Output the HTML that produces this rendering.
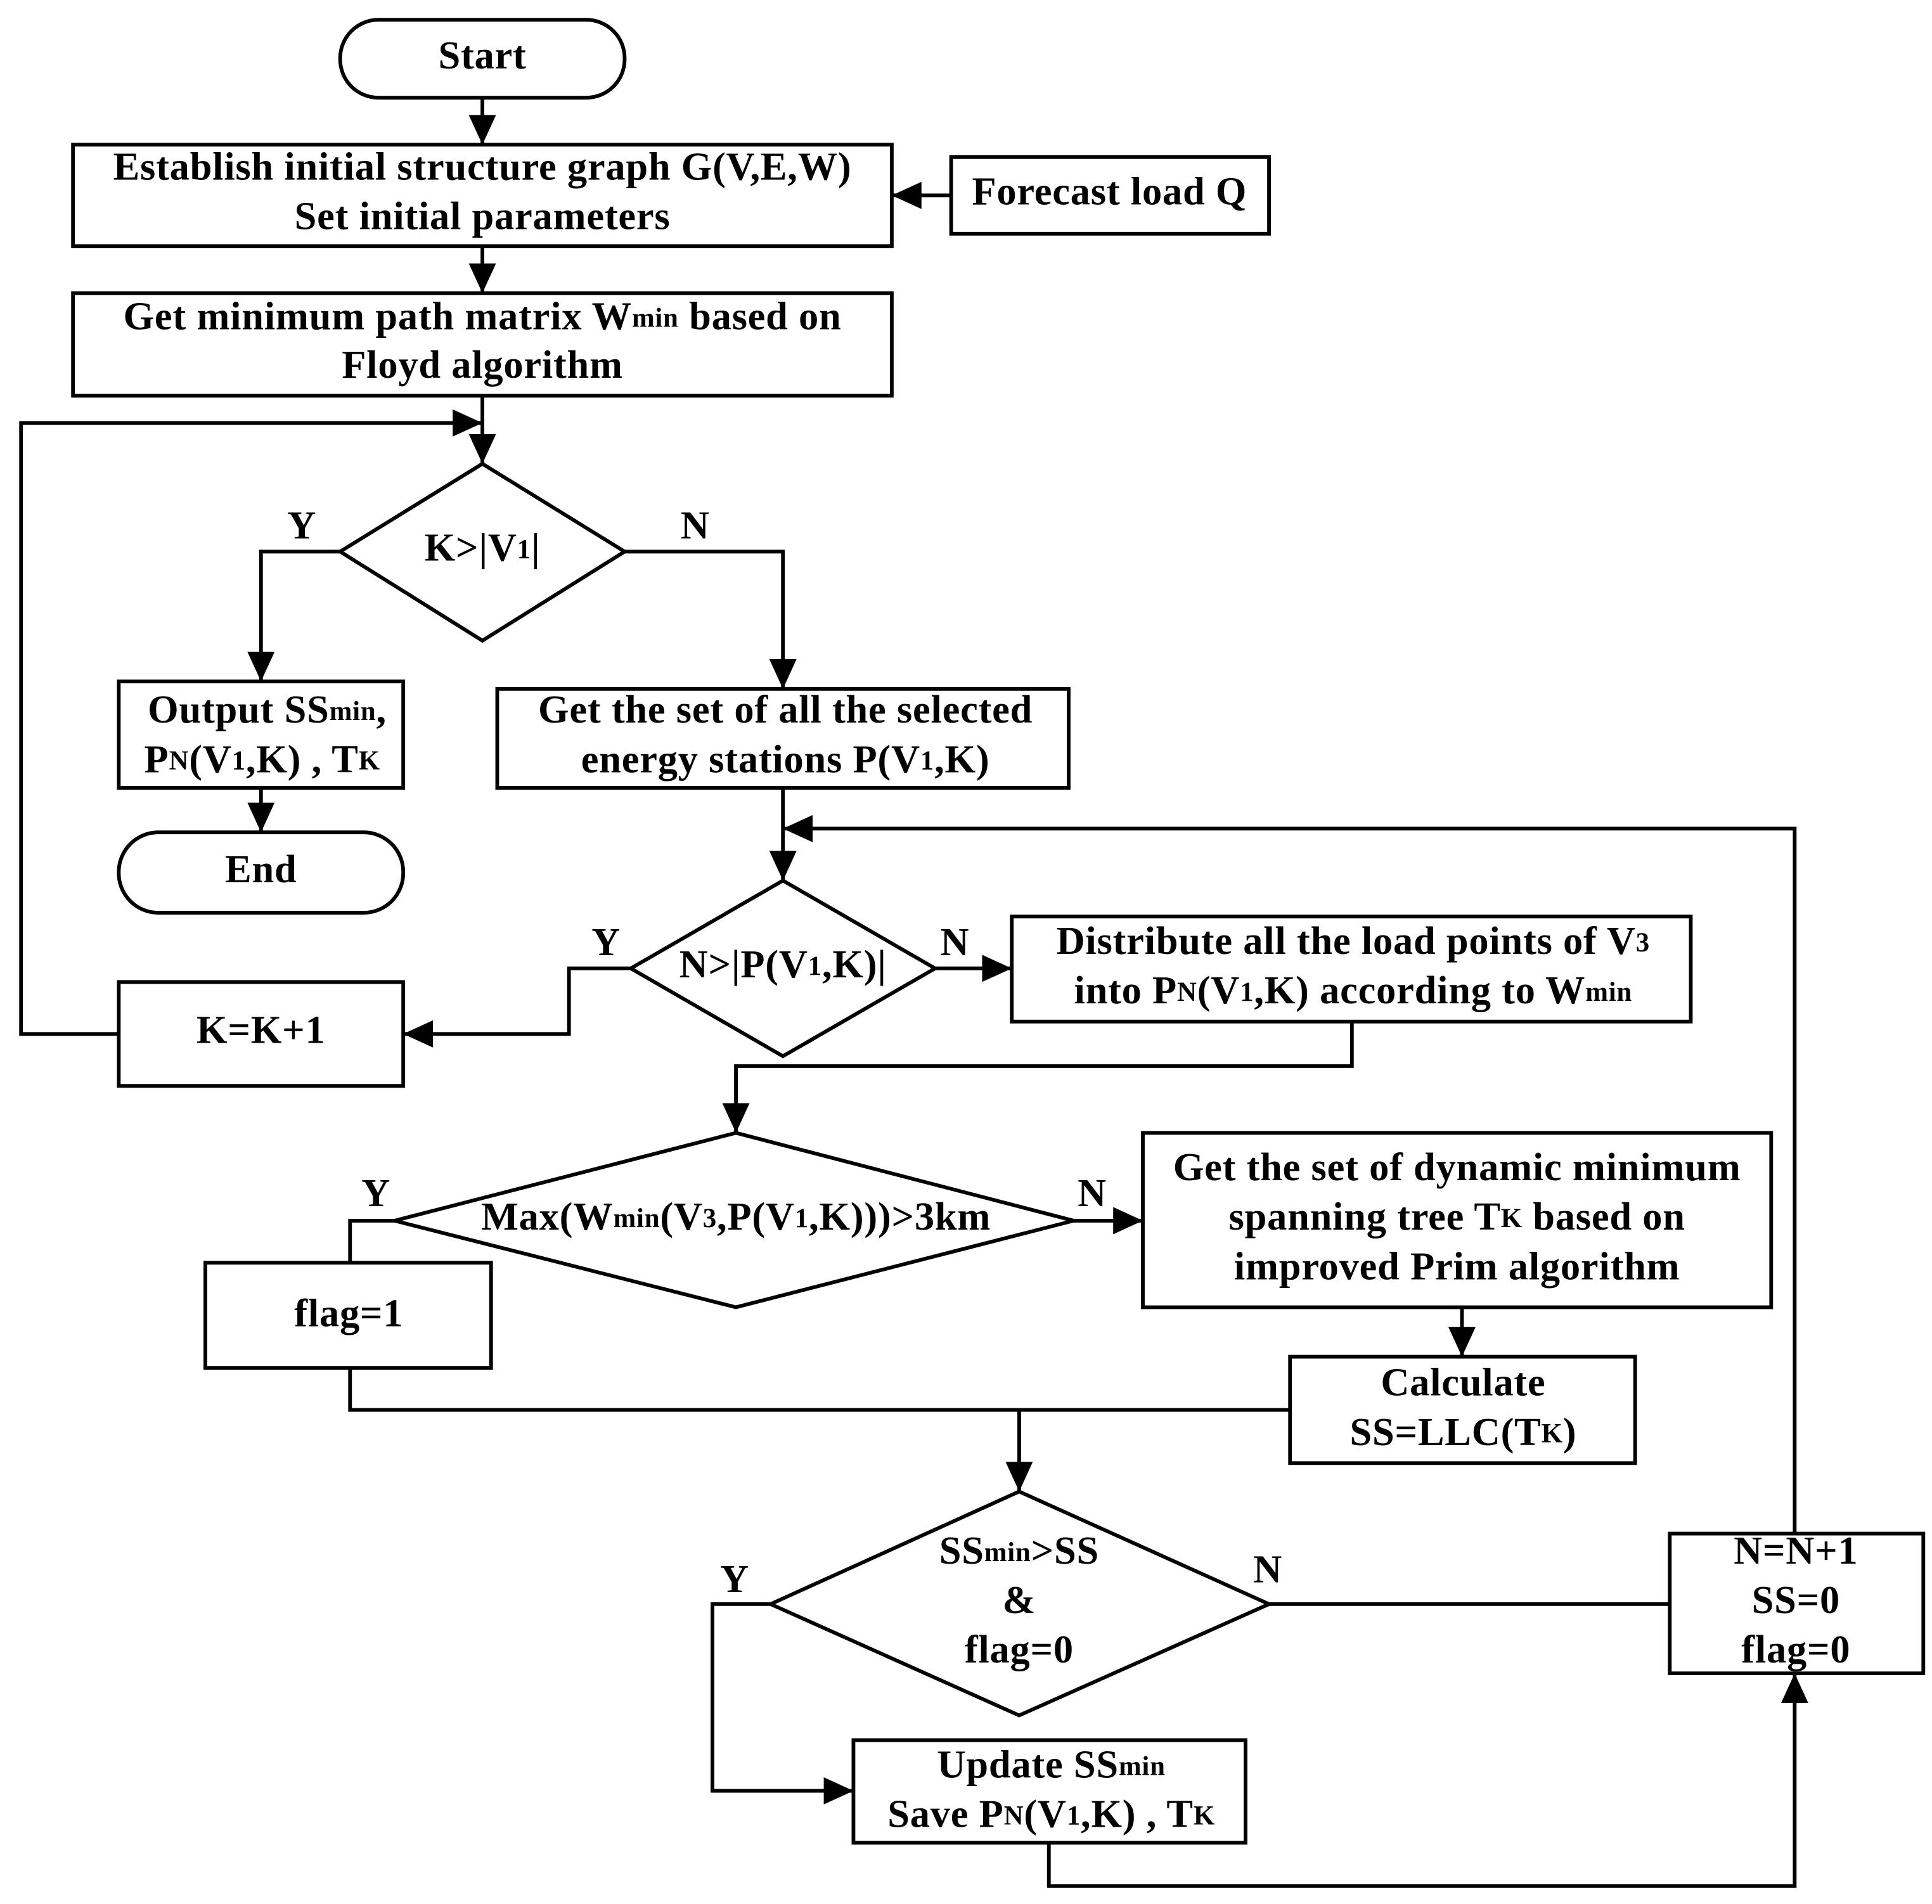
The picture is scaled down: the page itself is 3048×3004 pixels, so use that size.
<!DOCTYPE html>
<html><head><meta charset="utf-8"><style>
html,body{margin:0;padding:0;background:#fff;}
svg{display:block;}
text{font-family:"Liberation Serif",serif;font-weight:bold;font-size:32px;letter-spacing:0.4px;fill:#000;text-anchor:middle;dominant-baseline:middle;}
.s{font-size:22px;}
</style></head><body>
<svg width="3048" height="3004" viewBox="0 0 1562 1539.5" xmlns="http://www.w3.org/2000/svg">
<defs>
<marker id="a" markerWidth="26" markerHeight="22" refX="24" refY="11" orient="auto" markerUnits="userSpaceOnUse">
<path d="M0,0 L24,11 L0,22 Z" fill="#000"/>
</marker>
</defs>
<g fill="none" stroke="#000" stroke-width="3">
<rect x="275" y="16" width="230" height="63" rx="31"/>
<rect x="59" y="117" width="662" height="82"/>
<rect x="769" y="127" width="257" height="62"/>
<rect x="59" y="237" width="662" height="83"/>
<polygon points="390,375 505,446 390,518 275,446"/>
<rect x="96" y="551" width="230" height="86"/>
<rect x="96" y="673" width="230" height="65" rx="32"/>
<rect x="402" y="557" width="462" height="80"/>
<polygon points="633,712 756,783 633,854 510,783"/>
<rect x="96" y="794" width="230" height="84"/>
<rect x="818" y="741" width="549" height="85"/>
<polygon points="595,916 868,987 595,1057 319,987"/>
<rect x="166" y="1021" width="231" height="85"/>
<rect x="924" y="916" width="508" height="141"/>
<rect x="1043" y="1097" width="279" height="86"/>
<polygon points="824,1206 1026,1297 824,1387 623,1297"/>
<rect x="690" y="1407" width="317" height="83"/>
<rect x="1350" y="1240" width="205" height="113"/>

<path d="M390,79 V117" marker-end="url(#a)"/>
<path d="M769,158 H721" marker-end="url(#a)"/>
<path d="M390,199 V237" marker-end="url(#a)"/>
<path d="M390,320 V375" marker-end="url(#a)"/>
<path d="M96,836 H17 V342 H390" marker-end="url(#a)"/>
<path d="M275,446 H211 V551" marker-end="url(#a)"/>
<path d="M505,446 H633 V557" marker-end="url(#a)"/>
<path d="M211,637 V673" marker-end="url(#a)"/>
<path d="M633,637 V712" marker-end="url(#a)"/>
<path d="M1451,1240 V670 H633" marker-end="url(#a)"/>
<path d="M510,783 H460 V836 H326" marker-end="url(#a)"/>
<path d="M756,783 H818" marker-end="url(#a)"/>
<path d="M1093,826 V862 H595 V916" marker-end="url(#a)"/>
<path d="M319,987 H283 V1021"/>
<path d="M283,1106 V1140 H1043"/>
<path d="M868,987 H924" marker-end="url(#a)"/>
<path d="M1182,1057 V1097" marker-end="url(#a)"/>
<path d="M824,1140 V1206" marker-end="url(#a)"/>
<path d="M623,1297 H576 V1448 H690" marker-end="url(#a)"/>
<path d="M1026,1297 H1350"/>
<path d="M848,1490 V1525 H1451 V1353" marker-end="url(#a)"/>
</g>

<text x="390" y="138">Establish initial structure graph G(V,E,W)</text>
<text x="390" y="48">Start</text>
<text x="390" y="178">Set initial parameters</text>
<text x="897" y="158">Forecast load Q</text>
<text x="390" y="259">Get minimum path matrix W<tspan class="s">min</tspan> based on</text>
<text x="390" y="298">Floyd algorithm</text>
<text x="390" y="446">K&gt;|V<tspan class="s">1</tspan>|</text>
<text x="244" y="428">Y</text>
<text x="562" y="428">N</text>
<text x="216" y="577">Output SS<tspan class="s">min</tspan>,</text>
<text x="212" y="617">P<tspan class="s">N</tspan>(V<tspan class="s">1</tspan>,K) , T<tspan class="s">K</tspan></text>
<text x="211" y="706">End</text>
<text x="635" y="577">Get the set of all the selected</text>
<text x="635" y="617">energy stations P(V<tspan class="s">1</tspan>,K)</text>
<text x="633" y="783">N&gt;|P(V<tspan class="s">1</tspan>,K)|</text>
<text x="490" y="765">Y</text>
<text x="772" y="765">N</text>
<text x="211" y="836">K=K+1</text>
<text x="1094" y="764">Distribute all the load points of V<tspan class="s">3</tspan></text>
<text x="1094" y="804">into P<tspan class="s">N</tspan>(V<tspan class="s">1</tspan>,K) according to W<tspan class="s">min</tspan></text>
<text x="595" y="987">Max(W<tspan class="s">min</tspan>(V<tspan class="s">3</tspan>,P(V<tspan class="s">1</tspan>,K)))&gt;3km</text>
<text x="304" y="968">Y</text>
<text x="883" y="968">N</text>
<text x="282" y="1065">flag=1</text>
<text x="1178" y="947">Get the set of dynamic minimum</text>
<text x="1178" y="987">spanning tree T<tspan class="s">K</tspan> based on</text>
<text x="1178" y="1027">improved Prim algorithm</text>
<text x="1183" y="1121">Calculate</text>
<text x="1183" y="1161">SS=LLC(T<tspan class="s">K</tspan>)</text>
<text x="824" y="1257">SS<tspan class="s">min</tspan>&gt;SS</text>
<text x="824" y="1297">&amp;</text>
<text x="824" y="1337">flag=0</text>
<text x="594" y="1280">Y</text>
<text x="1025" y="1272">N</text>
<text x="850" y="1430">Update SS<tspan class="s">min</tspan></text>
<text x="850" y="1470">Save P<tspan class="s">N</tspan>(V<tspan class="s">1</tspan>,K) , T<tspan class="s">K</tspan></text>
<text x="1452" y="1257">N=N+1</text>
<text x="1452" y="1297">SS=0</text>
<text x="1452" y="1337">flag=0</text>
</svg>
</body></html>
